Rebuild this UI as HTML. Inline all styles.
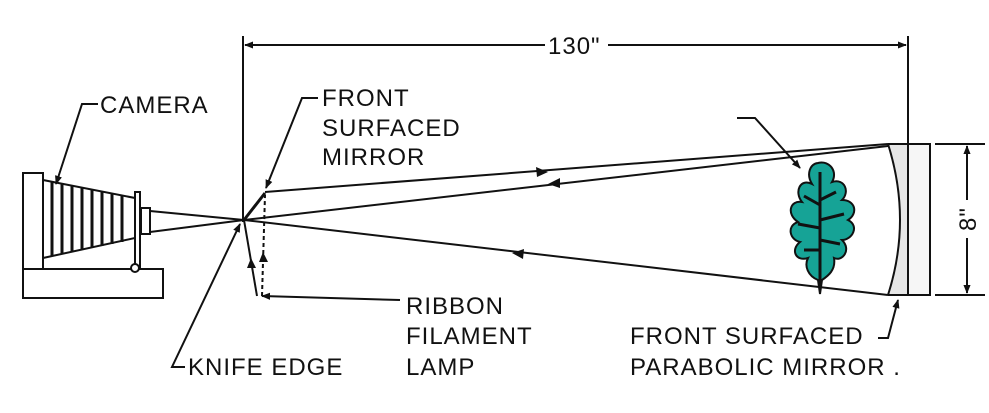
<!DOCTYPE html>
<html><head><meta charset="utf-8"><style>
html,body{margin:0;padding:0;background:#fff;}
svg{display:block;}
text{font-family:"Liberation Sans",sans-serif;font-size:24px;fill:#111;letter-spacing:1px;}
</style></head><body>
<svg width="989" height="413" viewBox="0 0 989 413" xmlns="http://www.w3.org/2000/svg">
<defs>
<marker id="a" viewBox="0 0 10 10" refX="9" refY="5" markerWidth="9" markerHeight="9" orient="auto-start-reverse" markerUnits="userSpaceOnUse"><path d="M0,1 L10,5 L0,9 z" fill="#111"/></marker>
</defs>
<g stroke="#111" stroke-width="2" fill="none">
<line x1="243" y1="36" x2="243" y2="222"/>
<line x1="908" y1="36" x2="908" y2="146"/>
<line x1="245" y1="45" x2="545" y2="45" marker-start="url(#a)"/>
<line x1="608" y1="45" x2="906" y2="45" marker-end="url(#a)"/>
<line x1="935" y1="144" x2="985" y2="144"/>
<line x1="935" y1="295" x2="985" y2="295"/>
<line x1="967" y1="146" x2="967" y2="200" marker-start="url(#a)"/>
<line x1="967" y1="238" x2="967" y2="293" marker-end="url(#a)"/>
<rect x="23" y="173" width="20" height="96"/>
<rect x="23" y="269" width="140" height="29"/>
<path d="M43,180 L135,198 L135,238 L43,258"/>
<path d="M52,182v74M62,184v70M72,186v66M82,188v62M92,190v58M102,192v54M112,194v50M122,196v46" stroke-width="3"/>
<rect x="135" y="192" width="5" height="76"/>
<rect x="141" y="208" width="9" height="26"/>
<circle cx="135" cy="268" r="4" fill="#fff"/>
<line x1="150" y1="211" x2="244" y2="220"/>
<line x1="150" y1="232" x2="244" y2="220"/>
<line x1="265" y1="192" x2="888" y2="144"/>
<line x1="244" y1="220" x2="888" y2="146"/>
<line x1="244" y1="220" x2="888" y2="295"/>
<line x1="244" y1="220" x2="265" y2="193" stroke-width="3"/>
<line x1="244" y1="220" x2="257" y2="296"/>
<line x1="262" y1="296" x2="265" y2="195" stroke-dasharray="4,3"/>
<path d="M888,144 Q912,220 888,295 L908,295 L908,144 Z" fill="#e6e6e6" stroke="none"/>
<path d="M888,144 Q912,220 888,295"/>
<rect x="908" y="144" width="22" height="151" fill="#f6f6f6"/>
<line x1="888" y1="144" x2="930" y2="144"/>
<line x1="888" y1="295" x2="930" y2="295"/>
<path d="M98,104 H82 L56,184" marker-end="url(#a)"/>
<path d="M318,98 H302 L266,188" marker-end="url(#a)"/>
<path d="M400,300 L262,296" marker-end="url(#a)"/>
<path d="M185,367 H172 L240,224" marker-end="url(#a)"/>
<path d="M878,338 H888 L898,300" marker-end="url(#a)"/>
<path d="M737,118 H755 L800,168" marker-end="url(#a)"/>
</g>
<g fill="#111">
<path d="M548,172 l-12,-5 l1,10z"/>
<path d="M548,184 l12,-6 l0,10z"/>
<path d="M512,253 l12,-4 l-1,10z"/>
<path d="M251,258 l-4,10 l9,0z"/>
<path d="M263,252 l-4,10 l9,0z"/>
</g>
<path d="M818,163 C830,160 838,172 832,182 C845,178 850,192 842,200 C856,200 858,214 848,220 C860,226 852,240 842,240 C852,250 842,262 834,258 C836,270 828,276 822,280 L820,294 L818,280 C808,276 804,266 808,258 C796,262 790,250 800,242 C790,240 786,226 798,222 C786,214 790,200 802,202 C794,192 800,178 812,184 C806,174 810,164 818,163Z" fill="#16a396" stroke="#111" stroke-width="2"/>
<path d="M820,172 L820,290 M820,200 L836,192 M820,220 L844,214 M820,240 L840,244 M820,205 L804,196 M820,228 L798,224 M820,250 L804,250" stroke="#111" stroke-width="3" fill="none"/>
<text x="548" y="54">130"</text>
<text x="100" y="113">CAMERA</text>
<text x="322" y="106">FRONT</text>
<text x="322" y="136">SURFACED</text>
<text x="322" y="165">MIRROR</text>
<text x="406" y="314">RIBBON</text>
<text x="406" y="344">FILAMENT</text>
<text x="406" y="375">LAMP</text>
<text x="188" y="375">KNIFE EDGE</text>
<text x="630" y="344">FRONT SURFACED</text>
<text x="630" y="375">PARABOLIC MIRROR .</text>
<text transform="translate(976,219) rotate(-90)" text-anchor="middle">8"</text>
</svg>
</body></html>
